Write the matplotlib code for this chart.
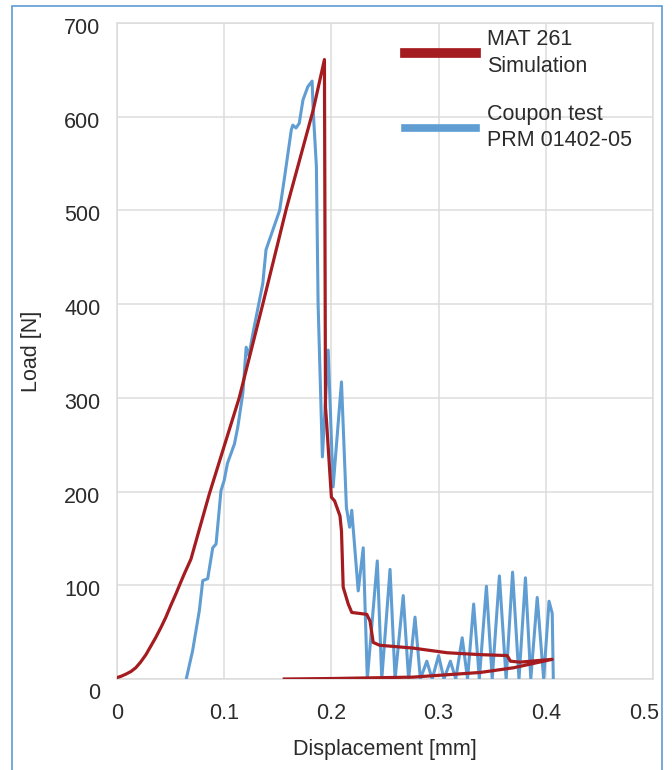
import matplotlib
matplotlib.use("Agg")
import matplotlib.pyplot as plt
import matplotlib.transforms as mtransforms
from matplotlib.patches import Rectangle

plt.rcParams['font.family'] = ['Liberation Sans', 'DejaVu Sans']

# Simulation (MAT 261)
sim_x = [0.0, 0.004, 0.008, 0.013, 0.0175, 0.022, 0.027, 0.031, 0.036, 0.041, 0.0456,
         0.050, 0.055, 0.059, 0.0627, 0.069, 0.086, 0.114,
         0.136, 0.158, 0.183, 0.1935, 0.1945, 0.1954, 0.200, 0.203, 0.208, 0.2094, 0.211,
         0.2157, 0.219, 0.233, 0.236, 0.239, 0.245, 0.276, 0.308, 0.339, 0.364, 0.367,
         0.376, 0.406, 0.37, 0.339, 0.276, 0.2, 0.156]
sim_y = [1.5, 3, 5, 8, 12, 18, 26, 34, 44, 55, 66,
         78, 91, 102, 112, 128, 197, 300,
         400, 502, 607, 661, 290, 276, 194, 190, 174, 158, 98,
         80, 71, 69, 62, 39, 36, 33, 28, 26, 25, 19,
         18, 21, 12, 7, 2, 0.5, 0]

# Coupon test (PRM 01402-05)
test_x = [0.0646, 0.0705, 0.0768, 0.080, 0.0846, 0.0893, 0.0924, 0.097, 0.100, 0.103,
          0.1096, 0.1127, 0.1174, 0.1205, 0.123, 0.127, 0.136, 0.139, 0.1517, 0.156,
          0.1626, 0.164, 0.167, 0.170, 0.1735, 0.178, 0.182, 0.183, 0.186, 0.1876,
          0.1916, 0.197, 0.2016, 0.2094, 0.214, 0.217, 0.219, 0.225, 0.2297, 0.2335,
          0.2428, 0.247, 0.2547, 0.2594, 0.267, 0.272, 0.278, 0.283, 0.289, 0.294,
          0.300, 0.305, 0.311, 0.316, 0.322, 0.327, 0.3327, 0.338, 0.3446, 0.350,
          0.3567, 0.363, 0.369, 0.375, 0.381, 0.386, 0.392, 0.398, 0.403, 0.406, 0.407]
test_y = [0, 30, 73, 105, 107, 140, 144, 201, 212, 230,
          251, 269, 305, 354, 345, 370, 422, 458, 500, 533,
          586, 591, 588, 593, 618, 632, 638, 607, 547, 400,
          237, 351, 205, 317, 183, 162, 180, 94, 140, 0,
          126, 0, 117, 0, 89, 0, 66, 0, 19, 0,
          25, 0, 19, 0, 44, 0, 80, 0, 99, 0,
          110, 0, 114, 0, 108, 0, 87, 0, 83, 70, 0]

x_ticks = [0, 0.1, 0.2, 0.3, 0.4, 0.5]
x_labels = ['0', '0.1', '0.2', '0.3', '0.4', '0.5']
y_ticks = [0, 100, 200, 300, 400, 500, 600, 700]
y_labels = ['0', '100', '200', '300', '400', '500', '600', '700']

RED = '#a51c20'
BLUE = '#5f9dd3'
GRID = '#dcdcdc'
TXT = '#2b2b2b'
FS = 15.5

fig = plt.figure(figsize=(6.72, 7.7), dpi=100)
ax = fig.add_axes([117/672, 1 - 679/770, (653-117)/672, (679-23)/770])

ax.plot(test_x, test_y, color=BLUE, lw=2.2, label='Coupon test\nPRM 01402-05', zorder=3)
ax.plot(sim_x, sim_y, color=RED, lw=2.3, label='MAT 261\nSimulation', zorder=4)

ax.set_xlim(0, 0.5)
ax.set_ylim(0, 700)
ax.set_xticks(x_ticks)
ax.set_xticklabels(x_labels)
ax.set_yticks(y_ticks)
ax.set_yticklabels(y_labels)
ax.grid(True, color=GRID, lw=1.1)
ax.set_axisbelow(True)
for s in ax.spines.values():
    s.set_color(GRID)
    s.set_linewidth(1.1)
ax.tick_params(axis='both', length=0, labelsize=FS, labelcolor=TXT)
ax.tick_params(axis='y', pad=12)
ax.tick_params(axis='x', pad=17)

ax.set_xlabel('Displacement [mm]', fontsize=FS, color=TXT, va='center')
ax.xaxis.set_label_coords(0.5, (679 - 750) / 656)
ax.set_ylabel('Load [N]', fontsize=FS, color=TXT, va='center')
ax.yaxis.set_label_coords((32 - 117) / 536, 0.5)

# small label nudges as in the reference
yt = ax.yaxis.get_major_ticks()
for i, t in enumerate(yt):
    dy = -12/100 if i == 0 else -3/100
    t.label1.set_transform(t.label1.get_transform() +
                           mtransforms.ScaledTranslation(0, dy, fig.dpi_scale_trans))
xt = ax.xaxis.get_major_ticks()
xt[-1].label1.set_transform(xt[-1].label1.get_transform() +
                            mtransforms.ScaledTranslation(-9/100, 0, fig.dpi_scale_trans))

h, l = ax.get_legend_handles_labels()
leg = ax.legend(h[::-1], l[::-1], loc='upper left', bbox_to_anchor=((405-117)/536, (679-29)/656),
                frameon=False, fontsize=FS, handlelength=3.3, handletextpad=0.5,
                labelspacing=1.25, borderpad=0, borderaxespad=0)
for t in leg.get_texts():
    t.set_color(TXT)
    t.set_linespacing(1.35)
lh = leg.legend_handles
lh[0].set_linewidth(7)
lh[1].set_linewidth(5.5)

fig.patches.append(Rectangle((12/672, -0.02), (662-12)/672, 1 - 6/770 + 0.02,
                             transform=fig.transFigure, fill=False,
                             edgecolor='#5b9bd5', lw=1.2))

fig.savefig('out.png', dpi=100)
